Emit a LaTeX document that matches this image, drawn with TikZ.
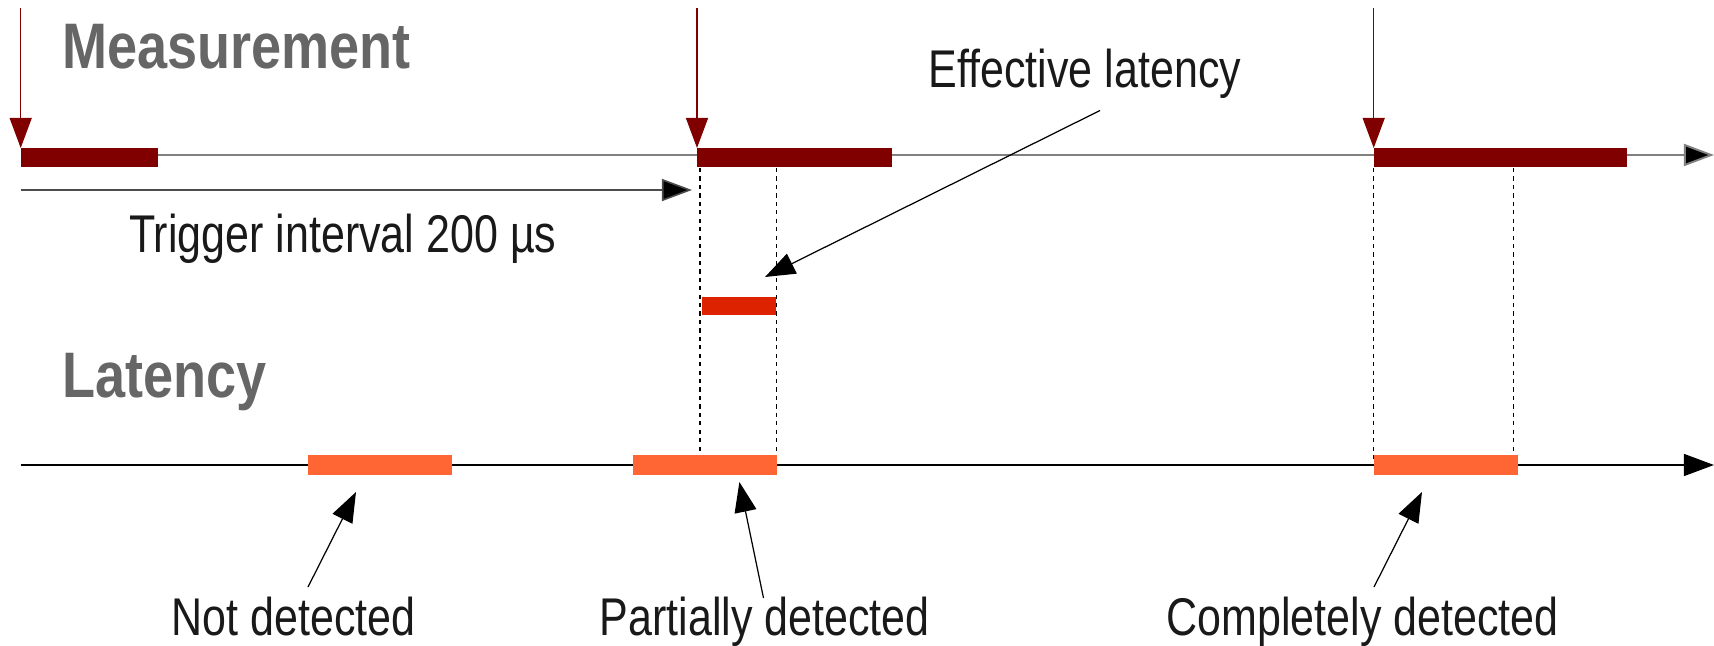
\documentclass[tikz,border=0pt]{standalone}
\usepackage{fontspec}
\setmainfont{Liberation Sans}[FakeStretch=0.81]
\newfontfamily\headfont{Liberation Sans}[FakeStretch=0.84]
\usetikzlibrary{arrows.meta}

\definecolor{measred}{HTML}{800000}
\definecolor{effred}{HTML}{DD2200}
\definecolor{latorange}{HTML}{FF6633}
\definecolor{headgray}{HTML}{666666}
\definecolor{axisgray}{HTML}{808080}

\tikzset{
	bigtip/.style={-{Triangle[length=0.30cm,width=0.22cm]}},
	trig/.style={draw=measred, line width=0.35pt, bigtip},
	callout/.style={draw=black, line width=0.35pt, bigtip},
	guide/.style={draw=black, line width=0.35pt, dash pattern=on 1.2pt off 1.2pt},
	heading/.style={font=\headfont\bfseries\fontsize{18.3}{20}\selectfont, text=headgray, inner sep=0pt, anchor=base west},
	caption/.style={font=\fontsize{15.1}{17}\selectfont, text=black!90, inner sep=0pt, anchor=base west}
}

\begin{document}
\begin{tikzpicture}[x=0.01cm, y=-0.01cm]
			%%%%% START %%%%%
			\useasboundingbox (0, 0) rectangle (1714, 645);
			
			% time axes
			\coordinate (maxis-l) at (20.7, 155);
			\coordinate (maxis-r) at (1714, 155);
			\coordinate (laxis-l) at (20.7, 465);
			\coordinate (laxis-r) at (1714, 465);
			\draw[axisgray, line width=0.55pt, -{Triangle[length=0.30cm,width=0.22cm,fill=black]}] (maxis-l) -- (maxis-r);
			\draw[callout] (laxis-l) -- (laxis-r);
			
			% measurement windows
			\fill[measred] (20.7, 148) rectangle (158, 167);
			\fill[measred] (697, 148) rectangle (892, 167);
			\fill[measred] (1373.7, 148) rectangle (1627.3, 167);
			
			% triggers
			\foreach \tx/\tn in {20.7/t1, 697/t2, 1373.7/t3} {
				\coordinate (\tn-top) at (\tx, 8);
				\coordinate (\tn-bot) at (\tx, 148);
				\draw[trig] (\tn-top) -- (\tn-bot);
			}
			
			% trigger interval
			\coordinate (ivl-l) at (20.7, 190);
			\coordinate (ivl-r) at (692, 190);
			\draw[draw=black!70, line width=0.45pt, -{Triangle[length=0.30cm,width=0.22cm,fill=black]}] (ivl-l) -- (ivl-r);
			\node[caption] (ivl) at (128.5, 252) {Trigger interval 200 µs};
			
			% latency limits
			\draw[guide] (700, 168) -- (700, 463);
			\draw[guide] (776.5, 168) -- (776.5, 463);
			\draw[guide] (1373.7, 168) -- (1373.7, 463);
			\draw[guide] (1513.7, 168) -- (1513.7, 463);
			
			% effective latency
			\fill[effred] (702, 297) rectangle (776, 315);
			\node[caption] (eff) at (928, 87) {Effective latency};
			\coordinate (eff-tail) at (1100, 110.5);
			\coordinate (eff-tip) at (765, 277);
			\draw[callout] (eff-tail) -- (eff-tip);
			
			% latency windows
			\fill[latorange] (308, 455) rectangle (452, 475);
			\fill[latorange] (633, 455) rectangle (777, 475);
			\fill[latorange] (1374, 455) rectangle (1518, 475);
			
			\node[heading] (meas) at (61.7, 68) {Measurement};
			\node[heading] (lat) at (61.4, 397) {Latency};
			
			\node[caption] (nd) at (171, 635) {Not detected};
			\node[caption] (pd) at (599, 635) {Partially detected};
			\node[caption] (cd) at (1166, 635) {Completely detected};
			
			\coordinate (nd-tail) at (308, 587);
			\coordinate (nd-tip) at (356, 492);
			\coordinate (pd-tail) at (763.5, 598);
			\coordinate (pd-tip) at (739.4, 482);
			\coordinate (cd-tail) at (1374, 587);
			\coordinate (cd-tip) at (1422, 492);
			\draw[callout] (nd-tail) -- (nd-tip);
			\draw[callout] (pd-tail) -- (pd-tip);
			\draw[callout] (cd-tail) -- (cd-tip);
			
			%%%%% END %%%%%
\end{tikzpicture}
\end{document}
